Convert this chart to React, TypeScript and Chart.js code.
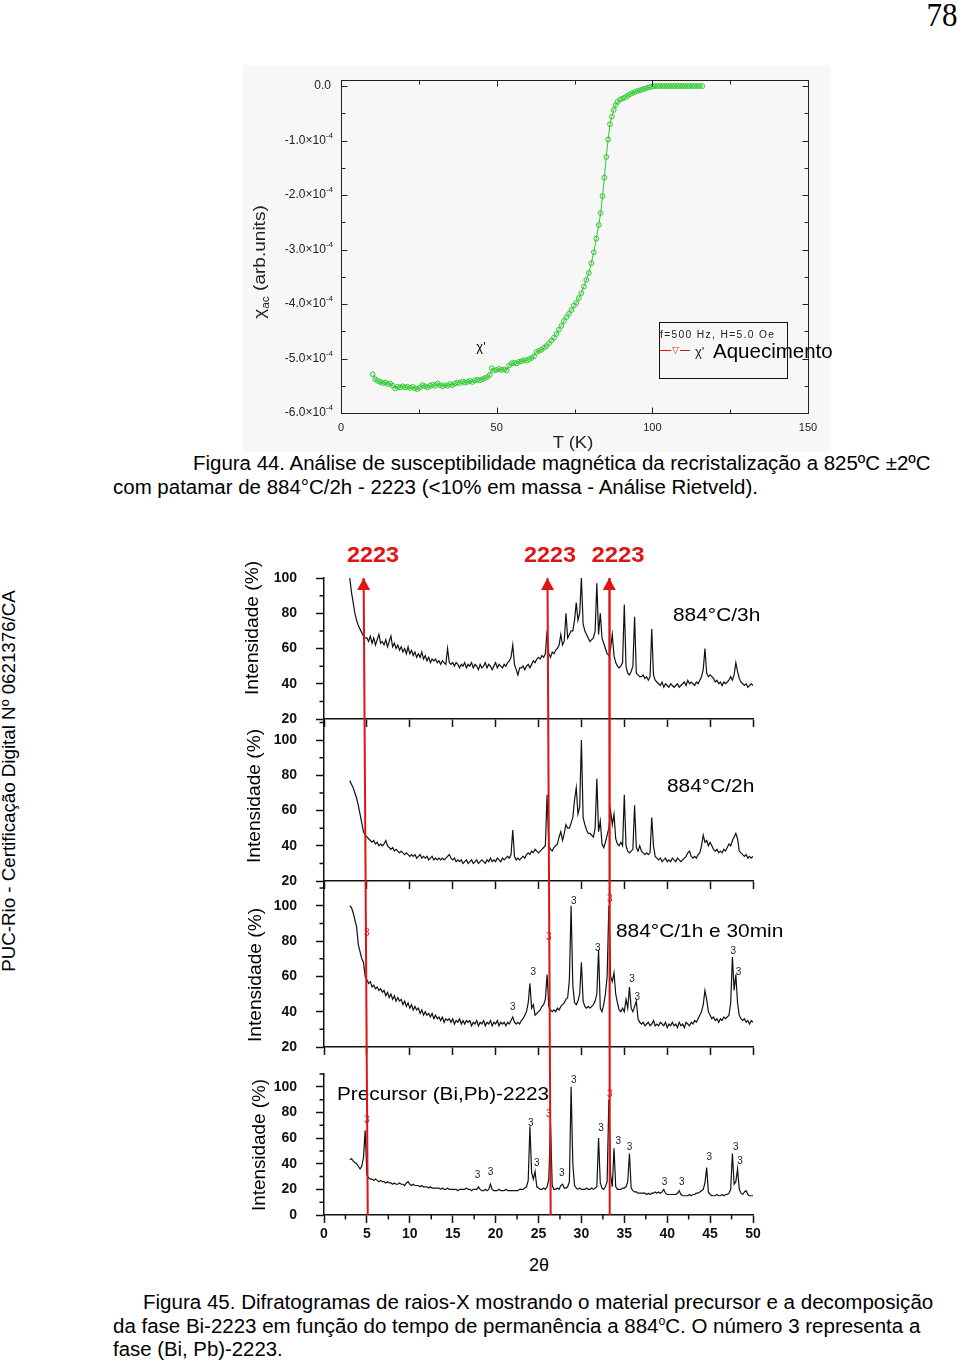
import React, { useEffect, useLayoutEffect, useRef } from "react";
import { Chart, registerables } from "chart.js";
Chart.register(...registerables);

const SANS = '"Liberation Sans", Arial, Helvetica, sans-serif';
const SERIF = '"Liberation Serif", "Times New Roman", serif';
const RED = "#e01414";
const GREEN = "#2fca2f";
const INK = "#111";

// ---------------- Figura 44 : susceptibilidade ----------------
const tempK = [
  10.2, 11.0, 11.8, 12.6, 13.4, 14.2, 15.0, 15.8, 16.6, 17.4,
  18.2, 19.0, 19.8, 20.6, 21.4, 22.2, 23.0, 23.8, 24.6, 25.4,
  26.2, 27.0, 27.8, 28.6, 29.4, 30.2, 31.0, 31.8, 32.6, 33.4,
  34.2, 35.0, 35.8, 36.6, 37.4, 38.2, 39.0, 39.8, 40.6, 41.4,
  42.2, 43.0, 43.8, 44.6, 45.4, 46.2, 47.0, 47.8, 48.4, 49.2,
  50.0, 50.8, 51.6, 52.4, 53.2, 54.0, 54.8, 55.6, 56.4, 57.2,
  58.0, 58.8, 59.6, 60.4, 61.2, 62.0, 62.8, 63.6, 64.4, 65.2,
  66.0, 66.8, 67.6, 68.4, 69.2, 70.0, 70.8, 71.6, 72.4, 73.2,
  74.0, 74.8, 75.6, 76.4, 77.2, 78.0, 78.8, 79.6, 80.4, 81.2,
  82.0, 82.8, 83.4, 84.0, 84.6, 85.2, 85.8, 86.4, 87.0, 87.6,
  88.2, 88.8, 89.6, 90.4, 91.2, 92.0, 92.8, 93.6, 94.4, 95.2,
  96.0, 96.8, 97.6, 98.4, 99.2, 100.0, 100.8, 101.6, 102.4, 103.2,
  104.0, 104.8, 105.6, 106.4, 107.2, 108.0, 108.8, 109.6, 110.4, 111.2,
  112.0, 112.8, 113.6, 114.4, 115.2, 116.0,
];
// chi_ac in units of 1e-4
const chiAc = [
  -5.29, -5.38, -5.41, -5.43, -5.45, -5.44, -5.47, -5.46, -5.5, -5.55,
  -5.52, -5.53, -5.51, -5.53, -5.52, -5.54, -5.52, -5.55, -5.56, -5.53,
  -5.49, -5.51, -5.53, -5.5, -5.48, -5.5, -5.46, -5.49, -5.51, -5.49,
  -5.5, -5.47, -5.49, -5.46, -5.44, -5.45, -5.42, -5.44, -5.43, -5.41,
  -5.43, -5.4, -5.39, -5.4, -5.38, -5.36, -5.34, -5.3, -5.18, -5.22,
  -5.21, -5.19, -5.21, -5.2, -5.22, -5.13, -5.09, -5.08, -5.09, -5.06,
  -5.05, -5.03, -5.04, -5.01, -4.99, -4.96, -4.88, -4.86, -4.84, -4.8,
  -4.77, -4.72, -4.67, -4.62, -4.55, -4.47, -4.4, -4.31, -4.24, -4.18,
  -4.11, -4.03, -3.98, -3.89, -3.8, -3.68, -3.56, -3.43, -3.25, -3.05,
  -2.8, -2.55, -2.33, -2.02, -1.68, -1.3, -0.98, -0.7, -0.56, -0.44,
  -0.35, -0.29, -0.25, -0.23, -0.21, -0.18, -0.15, -0.13, -0.11, -0.09,
  -0.08, -0.06, -0.05, -0.03, -0.02, -0.01, 0, 0, 0, 0,
  0, 0, 0, 0, 0, 0, 0, 0, 0, 0,
  0, 0, 0, 0, 0, 0,
];
const tempTicksMajor = [0, 50, 100, 150];
const tempTicksMinor = [25, 75, 125];
const chiTicksMajor = [0, -1, -2, -3, -4, -5, -6];
const chiTicksMinor = [-0.5, -1.5, -2.5, -3.5, -4.5, -5.5];

// ---------------- Figura 45 : difratogramas ----------------
const twoThetaStart = 3.0;
const twoThetaStep = 0.2;
const int3h = [
  100, 92, 86, 80, 76, 73, 71, 69, 67, 66,
  66, 64, 67, 63, 66, 62, 65, 68, 63, 64,
  62, 65, 61, 64, 67, 61, 63, 60, 62, 59,
  61, 58, 60, 57, 61, 57, 59, 56, 58, 55,
  57, 55, 58, 54, 56, 53, 55, 52, 54, 53,
  54, 52, 53, 51, 53, 52, 51, 60, 52, 51,
  52, 50, 52, 51, 49, 51, 50, 52, 49, 51,
  50, 52, 49, 51, 50, 48, 51, 49, 50, 52,
  49, 51, 50, 48, 50, 52, 49, 51, 50, 49,
  51, 50, 52, 53, 55, 62, 51, 48, 45, 49,
  49, 50, 48, 50, 51, 49, 51, 53, 52, 54,
  55, 54, 56, 55, 57, 70, 57, 55, 58, 57,
  59, 60, 62, 68, 62, 64, 80, 66, 68, 70,
  70, 76, 86, 76, 80, 100, 74, 70, 68, 66,
  64, 65, 66, 70, 97, 68, 80, 66, 63, 60,
  57, 56, 60, 68, 56, 52, 50, 49, 50, 52,
  85, 50, 46, 45, 47, 50, 78, 46, 45, 44,
  44, 45, 43, 44, 42, 44, 71, 45, 42, 41,
  40, 39, 41, 38, 40, 39, 38, 40, 39, 38,
  39, 40, 38, 39, 40, 41, 39, 42, 40, 41,
  40, 39, 41, 40, 42, 44, 48, 60, 46, 44,
  45, 44, 43, 41, 42, 40, 41, 39, 41, 40,
  41, 42, 44, 42, 45, 52, 47, 43, 41, 40,
  39, 40, 38, 39, 40, 39,
];
const int2h = [
  77, 75, 73, 70, 67, 63, 58, 53, 48, 46,
  45, 44, 43, 42, 43, 41, 42, 40, 41, 40,
  41, 43, 40, 39, 38, 39, 37, 38, 37, 36,
  37, 36, 35, 36, 35, 34, 35, 34, 35, 33,
  34, 35, 33, 34, 33, 34, 32, 33, 34, 32,
  33, 32, 33, 32, 33, 32, 33, 34, 35, 33,
  32, 33, 31, 32, 31, 32, 30, 31, 32, 30,
  31, 32, 30, 31, 32, 30, 31, 32, 31, 30,
  32, 31, 33, 31, 32, 31, 33, 32, 31, 33,
  32, 33, 34, 33, 35, 49, 34, 32, 33, 32,
  33, 34, 33, 35, 36, 35, 37, 36, 38, 37,
  36, 37, 38, 39, 40, 69, 40, 38, 37, 39,
  40, 41, 45, 48, 43, 47, 52, 50, 50, 53,
  56, 66, 73, 58, 62, 100, 56, 52, 49, 47,
  47, 46, 45, 50, 78, 48, 54, 41, 39, 42,
  46, 50, 60, 52, 58, 44, 41, 40, 42, 40,
  69, 40, 37, 36, 37, 38, 63, 39, 37, 40,
  37, 36, 35, 36, 35, 36, 56, 40, 34, 33,
  32, 33, 31, 32, 33, 31, 32, 31, 33, 32,
  31, 33, 32, 31, 32, 33, 34, 36, 37, 34,
  33, 34, 33, 35, 36, 40, 46, 42, 43, 40,
  42, 40, 38, 37, 38, 36, 37, 36, 38, 37,
  39, 41, 40, 43, 45, 47, 44, 37, 36, 35,
  34, 35, 33, 34, 33, 34,
];
const int1h30 = [
  100, 99, 96, 92, 88, 78, 74, 70, 68, 60,
  58, 56, 57, 54, 55, 53, 54, 52, 53, 51,
  52, 49, 51, 48, 50, 47, 49, 46, 48, 46,
  47, 44, 46, 43, 45, 42, 44, 41, 43, 41,
  42, 39, 41, 38, 40, 38, 39, 37, 39, 36,
  38, 36, 37, 35, 37, 34, 36, 35, 36, 34,
  36, 33, 35, 34, 36, 33, 35, 33, 35, 34,
  35, 32, 34, 33, 35, 32, 34, 33, 35, 32,
  34, 33, 35, 32, 34, 33, 35, 32, 34, 33,
  34, 32, 34, 33, 35, 37, 34, 33, 34, 33,
  35, 36, 38, 40, 45, 56, 42, 44, 38, 39,
  40, 41, 43, 44, 47, 61, 43, 41, 40, 41,
  40, 42, 41, 43, 44, 45, 47, 48, 58, 100,
  55, 45, 44, 46, 50, 68, 46, 43, 42, 43,
  42, 43, 44, 46, 50, 75, 42, 40, 44, 50,
  60, 100, 60, 57, 62, 50, 45, 41, 40, 42,
  40, 47, 42, 54, 42, 40, 43, 46, 36, 34,
  33, 34, 32, 33, 34, 32, 33, 35, 32, 33,
  32, 34, 33, 32, 34, 31, 33, 32, 34, 32,
  33, 31, 34, 32, 33, 31, 34, 33, 32, 34,
  33, 35, 34, 36, 38, 40, 44, 52, 47, 40,
  38, 36, 37, 35, 36, 34, 36, 35, 37, 36,
  37, 38, 45, 71, 52, 61, 45, 38, 36, 35,
  36, 34, 35, 33, 35, 34,
];
const intPrecursor = [
  43, 44, 42, 41, 40, 38, 36, 38, 45, 66,
  31, 29, 28, 28, 27, 28, 27, 26, 27, 26,
  26, 25, 26, 25, 25, 24, 25, 24, 24, 25,
  24, 24, 23, 25, 26, 24, 23, 24, 23, 23,
  23, 22, 23, 22, 22, 22, 21, 22, 21, 21,
  21, 21, 21, 20, 21, 20, 20, 21, 20, 20,
  20, 20, 20, 19, 20, 20, 20, 20, 21, 20,
  20, 19, 20, 20, 20, 22, 20, 19, 19, 20,
  19, 20, 24, 20, 19, 19, 19, 20, 19, 19,
  19, 20, 19, 19, 19, 19, 19, 19, 19, 20,
  20, 20, 21, 22, 27, 69, 33, 28, 34, 22,
  21, 20, 20, 21, 20, 22, 28, 71, 23, 20,
  20, 21, 20, 23, 24, 21, 21, 22, 26, 100,
  40, 23, 21, 20, 21, 20, 20, 20, 21, 20,
  20, 21, 20, 21, 22, 60, 25, 21, 20, 22,
  26, 90, 32, 22, 52, 22, 20, 20, 20, 21,
  21, 22, 26, 48, 21, 19, 18, 18, 17, 17,
  17, 17, 17, 16, 17, 16, 17, 17, 18, 17,
  18, 17, 18, 20, 17, 16, 16, 16, 16, 16,
  16, 17, 19, 16, 15, 15, 15, 15, 16, 15,
  16, 16, 17, 17, 18, 19, 20, 25, 37, 18,
  16, 15, 15, 15, 16, 15, 15, 16, 15, 16,
  16, 17, 20, 48, 24, 26, 36, 20, 17, 16,
  18, 19, 16, 15, 15, 15,
];
const twoTheta = int3h.map((_, i) => +(twoThetaStart + i * twoThetaStep).toFixed(1));

// 2223 reference lines (2theta at top of figure / at bottom of figure)
const arrowTop2Theta = [4.62, 26.05, 33.25];
const arrowBottom2Theta = [5.1, 26.42, 33.3];

// "3" peak markers [2theta, intensity]
const peakLabels1h30 = [
  [4.98, 84.4], [22.0, 42.4], [24.4, 62.3], [26.2, 82.1], [29.1, 102.6], [31.9, 75.9],
  [33.3, 103.7], [35.9, 58.3], [36.5, 48.1], [47.7, 74.2], [48.3, 62.3],
];
const peakLabelsPrecursor = [
  [5.0, 74], [17.9, 31.3], [19.4, 33.7], [24.1, 71.6], [24.8, 40.7], [26.2, 78.7],
  [27.7, 32.9], [29.1, 105], [32.3, 67.8], [33.3, 94.2], [34.3, 57.8], [35.6, 53.1],
  [39.7, 25.2], [41.7, 25.2], [44.9, 45.3], [48.0, 53.1], [48.5, 42.2],
];
const twoThetaTicks = [0, 5, 10, 15, 20, 25, 30, 35, 40, 45, 50];
const twoThetaMinor = [2.5, 7.5, 12.5, 17.5, 22.5, 27.5, 32.5, 37.5, 42.5, 47.5];

// ---------------- helpers ----------------
function Txt({ x, y, size, w, anchor = "left", rotate = false, weight = "normal", color = "#000", family = SANS, ls = 0, z = 2, children }: any) {
  const ref = useRef<HTMLDivElement>(null);
  useLayoutEffect(() => {
    const el = ref.current;
    if (!el) return;
    const apply = () => {
      let s = 1;
      if (w) {
        const nat = el.offsetWidth;
        if (nat > 0) s = w / nat;
      }
      const sc = `scaleX(${s})`;
      el.style.transform = rotate
        ? `translate(-50%,-50%) rotate(-90deg) ${sc}`
        : anchor === "center"
        ? `translate(-50%,-50%) ${sc}`
        : `translateY(-50%) ${sc}`;
    };
    apply();
    const f: any = (document as any).fonts;
    if (f && f.ready) f.ready.then(apply);
  });
  return (
    <div
      ref={ref}
      style={{
        position: "absolute",
        left: x,
        top: y,
        fontSize: size,
        fontFamily: family,
        fontWeight: weight,
        color,
        letterSpacing: ls,
        whiteSpace: "nowrap",
        lineHeight: 1,
        transformOrigin: rotate || anchor === "center" ? "50% 50%" : "0 50%",
        zIndex: z,
      }}
    >
      {children}
    </div>
  );
}

// ---------------- Figura 44 chart ----------------
function SusceptibilityChart() {
  const ref = useRef<HTMLCanvasElement>(null);
  const W = 587, H = 387;
  useEffect(() => {
    const framePlugin = {
      id: "suscFrame",
      beforeDraw(chart: any) {
        const { ctx, width, height } = chart;
        ctx.save();
        ctx.fillStyle = "#f7f7f7";
        ctx.fillRect(0, 0, width, height);
        ctx.restore();
      },
      afterDraw(chart: any) {
        const { ctx, chartArea: a, scales } = chart;
        const x = scales.x, y = scales.y;
        ctx.save();
        ctx.strokeStyle = "#222";
        ctx.lineWidth = 1;
        const L = Math.round(a.left) + 0.5, T = Math.round(a.top) + 0.5;
        const R = Math.round(a.right) + 0.5, B = Math.round(a.bottom) + 0.5;
        ctx.strokeRect(L, T, R - L, B - T);
        ctx.beginPath();
        const xt = (vals: number[], len: number) => {
          for (const v of vals) {
            const p = Math.round(x.getPixelForValue(v)) + 0.5;
            ctx.moveTo(p, B); ctx.lineTo(p, B - len);
            ctx.moveTo(p, T); ctx.lineTo(p, T + len);
          }
        };
        const yt = (vals: number[], len: number) => {
          for (const v of vals) {
            const p = Math.round(y.getPixelForValue(v)) + 0.5;
            ctx.moveTo(L, p); ctx.lineTo(L + len, p);
            ctx.moveTo(R, p); ctx.lineTo(R - len, p);
          }
        };
        xt(tempTicksMajor, 6); xt(tempTicksMinor, 4);
        yt(chiTicksMajor, 6); yt(chiTicksMinor, 4);
        ctx.stroke();
        ctx.fillStyle = "#222";
        ctx.textBaseline = "middle";
        ctx.textAlign = "center";
        ctx.font = `11px ${SANS}`;
        for (const v of tempTicksMajor) ctx.fillText(String(v), x.getPixelForValue(v), a.bottom + 15);
        const right = a.left - 8;
        for (const v of chiTicksMajor) {
          const py = y.getPixelForValue(v);
          if (v === 0) {
            ctx.font = `12px ${SANS}`;
            ctx.textAlign = "right";
            ctx.fillText("0.0", right - 2, py);
            continue;
          }
          ctx.font = `8px ${SANS}`;
          const supW = ctx.measureText("-4").width;
          ctx.textAlign = "left";
          ctx.fillText("-4", right - supW, py - 5);
          ctx.font = `12px ${SANS}`;
          ctx.textAlign = "right";
          ctx.fillText(`${v.toFixed(1)}\u00d710`, right - supW, py);
        }
        ctx.restore();
      },
    };
    const chart = new Chart(ref.current!, {
      type: "line",
      data: {
        datasets: [
          {
            data: tempK.map((t, i) => ({ x: t, y: chiAc[i] })),
            borderColor: GREEN,
            borderWidth: 1,
            pointRadius: 2.4,
            pointBorderWidth: 1,
            pointBorderColor: GREEN,
            pointBackgroundColor: "rgba(0,0,0,0)",
            tension: 0,
          },
        ],
      },
      options: {
        responsive: false,
        animation: false,
        events: [],
        layout: { padding: { left: 98, top: 14.5, right: 22, bottom: 39 } },
        plugins: { legend: { display: false }, tooltip: { enabled: false } },
        scales: {
          x: { type: "linear", min: 0, max: 150, display: false },
          y: { type: "linear", min: -6, max: 0.12, display: false },
        },
      } as any,
      plugins: [framePlugin],
    });
    return () => chart.destroy();
  }, []);
  return <canvas ref={ref} width={W} height={H} style={{ position: "absolute", left: 243, top: 65, width: W, height: H, zIndex: 1 }} />;
}

// ---------------- Figura 45 panels ----------------
const panelLayout = [
  { values: int3h, chartTop: 578, chartBottom: 719, yMin: 20, yMax: 100, yMajor: [20, 40, 60, 80, 100], yMinor: [30, 50, 70, 90], labels: [] as number[][], xLabels: false },
  { values: int2h, chartTop: 719, chartBottom: 881, yMin: 20, yMax: 112, yMajor: [20, 40, 60, 80, 100], yMinor: [30, 50, 70, 90, 110], labels: [] as number[][], xLabels: false },
  { values: int1h30, chartTop: 881, chartBottom: 1047, yMin: 20, yMax: 114, yMajor: [20, 40, 60, 80, 100], yMinor: [30, 50, 70, 90, 110], labels: peakLabels1h30, xLabels: false },
  { values: intPrecursor, chartTop: 1074, chartBottom: 1215, yMin: 0, yMax: 110, yMajor: [0, 20, 40, 60, 80, 100], yMinor: [10, 30, 50, 70, 90, 110], labels: peakLabelsPrecursor, xLabels: true },
];

const CANVAS_LEFT = 230;
const CANVAS_W = 560;
const Y_AXIS_W = 94;
const PAD_RIGHT = 37;

function XrdPanel({ cfg }: any) {
  const ref = useRef<HTMLCanvasElement>(null);
  const padTop = 10;
  const xAxisH = cfg.xLabels ? 40 : 9;
  const height = cfg.chartBottom - cfg.chartTop + padTop + xAxisH;
  useEffect(() => {
    const extras = {
      id: "xrdExtras",
      afterDatasetsDraw(chart: any) {
        const { ctx, scales } = chart;
        const x = scales.x, y = scales.y;
        ctx.save();
        ctx.font = `10px ${SANS}`;
        ctx.textAlign = "center";
        ctx.textBaseline = "middle";
        for (const [t, v] of cfg.labels) {
          const nearArrow = arrowBottom2Theta.some((b: number, k: number) => Math.abs((b + arrowTop2Theta[k]) / 2 - t) < 0.4);
          ctx.fillStyle = nearArrow ? RED : "#222";
          ctx.fillText("3", x.getPixelForValue(t), y.getPixelForValue(v));
        }
        ctx.restore();
      },
      afterDraw(chart: any) {
        const { ctx, chartArea: a, scales } = chart;
        const x = scales.x, y = scales.y;
        ctx.save();
        ctx.strokeStyle = INK;
        ctx.lineWidth = 1.5;
        ctx.beginPath();
        for (const v of cfg.yMinor) {
          const p = y.getPixelForValue(v);
          ctx.moveTo(a.left - 4.5, p); ctx.lineTo(a.left, p);
        }
        if (cfg.xLabels) {
          for (const v of twoThetaMinor) {
            const p = x.getPixelForValue(v);
            ctx.moveTo(p, a.bottom); ctx.lineTo(p, a.bottom + 4.5);
          }
        }
        ctx.stroke();
        ctx.restore();
      },
    };
    const chart = new Chart(ref.current!, {
      type: "line",
      data: {
        datasets: [
          {
            data: cfg.values.map((v: number, i: number) => ({ x: twoTheta[i], y: v })),
            borderColor: INK,
            borderWidth: 1.2,
            pointRadius: 0,
            tension: 0,
          },
        ],
      },
      options: {
        responsive: false,
        animation: false,
        events: [],
        layout: { padding: { left: 0, top: padTop, right: PAD_RIGHT, bottom: 0 } },
        plugins: { legend: { display: false }, tooltip: { enabled: false } },
        scales: {
          x: {
            type: "linear",
            min: 0,
            max: 50,
            afterBuildTicks: (s: any) => { s.ticks = twoThetaTicks.map((v) => ({ value: v })); },
            afterFit: (s: any) => { s.height = xAxisH; s.paddingLeft = 0; s.paddingRight = 0; },
            grid: { drawOnChartArea: false, tickLength: 8, tickColor: INK, tickWidth: 1.5 },
            border: { display: true, color: INK, width: 1.5 },
            ticks: { display: cfg.xLabels, color: INK, padding: 3, maxRotation: 0, font: { family: SANS, size: 14, weight: "bold" } },
          },
          y: {
            type: "linear",
            min: cfg.yMin,
            max: cfg.yMax,
            afterBuildTicks: (s: any) => { s.ticks = cfg.yMajor.map((v: number) => ({ value: v })); },
            afterFit: (s: any) => { s.width = Y_AXIS_W; s.paddingTop = 0; s.paddingBottom = 0; },
            grid: { drawOnChartArea: false, tickLength: 8, tickColor: INK, tickWidth: 1.5 },
            border: { display: true, color: INK, width: 1.5 },
            ticks: { color: INK, padding: 19, font: { family: SANS, size: 14, weight: "bold" } },
          },
        },
      } as any,
      plugins: [extras],
    });
    return () => chart.destroy();
  }, []);
  return (
    <canvas
      ref={ref}
      width={CANVAS_W}
      height={height}
      style={{ position: "absolute", left: CANVAS_LEFT, top: cfg.chartTop - padTop, width: CANVAS_W, height, zIndex: 1 }}
    />
  );
}

function ArrowOverlay() {
  const ref = useRef<HTMLCanvasElement>(null);
  const top = 540, H = 690, chartTop = 578, chartBottom = 1215;
  useEffect(() => {
    const heads = {
      id: "arrowHeads",
      afterDatasetsDraw(chart: any) {
        const { ctx, scales } = chart;
        ctx.save();
        ctx.fillStyle = RED;
        for (const t of arrowTop2Theta) {
          const px = scales.x.getPixelForValue(t);
          const py = scales.y.getPixelForValue(1);
          ctx.beginPath();
          ctx.moveTo(px, py);
          ctx.lineTo(px - 6.5, py + 12);
          ctx.lineTo(px + 6.5, py + 12);
          ctx.closePath();
          ctx.fill();
        }
        ctx.restore();
      },
    };
    const chart = new Chart(ref.current!, {
      type: "line",
      data: {
        datasets: arrowTop2Theta.map((t, k) => ({
          data: [{ x: t, y: 1 }, { x: arrowBottom2Theta[k], y: 0 }],
          borderColor: RED,
          borderWidth: 2,
          pointRadius: 0,
          clip: 10,
        })),
      },
      options: {
        responsive: false,
        animation: false,
        events: [],
        layout: { padding: { left: Y_AXIS_W, right: PAD_RIGHT, top: chartTop - top, bottom: top + H - chartBottom } },
        plugins: { legend: { display: false }, tooltip: { enabled: false } },
        scales: {
          x: { type: "linear", min: 0, max: 50, display: false },
          y: { type: "linear", min: 0, max: 1, display: false },
        },
      } as any,
      plugins: [heads],
    });
    return () => chart.destroy();
  }, []);
  return <canvas ref={ref} width={CANVAS_W} height={H} style={{ position: "absolute", left: CANVAS_LEFT, top, width: CANVAS_W, height: H, zIndex: 5, pointerEvents: "none" }} />;
}

export default function App() {
  useEffect(() => {
    document.body.style.margin = "0";
  }, []);
  return (
    <div style={{ position: "absolute", left: 0, top: 0, width: 960, height: 1363, background: "#fff", overflow: "hidden", fontFamily: SANS }}>
      <Txt x={942} y={15} size={34} anchor="center" family={SERIF} w={31}>78</Txt>

      {/* Figura 44 */}
      <SusceptibilityChart />
      <Txt x={481} y={346} size={13} anchor="center">χ'</Txt>
      <div style={{ position: "absolute", left: 659, top: 322, width: 129, height: 57, border: "1px solid #111", boxSizing: "border-box", zIndex: 2 }} />
      <Txt x={660} y={335} size={10} ls={1.3} w={115} color="#222">f=500 Hz, H=5.0 Oe</Txt>
      <div style={{ position: "absolute", left: 660, top: 350, width: 11, height: 1, background: RED, zIndex: 2 }} />
      <Txt x={675} y={350} size={9} anchor="center" color={RED}>▽</Txt>
      <div style={{ position: "absolute", left: 680, top: 350, width: 10, height: 1, background: RED, zIndex: 2 }} />
      <Txt x={695} y={351} size={13} color="#222">χ'</Txt>
      <Txt x={713} y={351} size={20.5} w={120}>Aquecimento</Txt>
      <Txt x={260} y={262} size={16} rotate w={113} color="#222">
        χ<sub style={{ fontSize: 10, verticalAlign: "sub", lineHeight: 0 }}>ac</sub> (arb.units)
      </Txt>
      <Txt x={573} y={442} size={17} anchor="center" w={40} color="#222">T (K)</Txt>
      <Txt x={193} y={463} size={20} w={738}>Figura 44. Análise de susceptibilidade magnética da recristalização a 825ºC ±2ºC</Txt>
      <Txt x={113} y={487} size={20} w={645}>com patamar de 884°C/2h - 2223 (&lt;10% em massa - Análise Rietveld).</Txt>

      {/* watermark */}
      <Txt x={9} y={781} size={18} rotate w={382}>PUC-Rio - Certificação Digital Nº 0621376/CA</Txt>

      {/* Figura 45 */}
      {panelLayout.map((cfg, i) => (
        <XrdPanel key={i} cfg={cfg} />
      ))}
      <Txt x={252} y={628} size={18} rotate w={134}>Intensidade (%)</Txt>
      <Txt x={254} y={796} size={18} rotate w={134}>Intensidade (%)</Txt>
      <Txt x={255} y={975} size={18} rotate w={134}>Intensidade (%)</Txt>
      <Txt x={259} y={1145} size={18} rotate w={132}>Intensidade (%)</Txt>
      <Txt x={673} y={615} size={18} w={87}>884°C/3h</Txt>
      <Txt x={667} y={786} size={18} w={87}>884°C/2h</Txt>
      <Txt x={616} y={931} size={18} w={167}>884°C/1h e 30min</Txt>
      <Txt x={337} y={1094} size={18} w={212}>Precursor (Bi,Pb)-2223</Txt>
      <Txt x={539} y={1265} size={18} anchor="center">2θ</Txt>
      <Txt x={373} y={555} size={22} anchor="center" weight="bold" color={RED} w={52}>2223</Txt>
      <Txt x={549.5} y={555} size={22} anchor="center" weight="bold" color={RED} w={52}>2223</Txt>
      <Txt x={618} y={555} size={22} anchor="center" weight="bold" color={RED} w={53}>2223</Txt>
      <ArrowOverlay />

      <Txt x={143} y={1302} size={20} w={790}>Figura 45. Difratogramas de raios-X  mostrando o material precursor e a decomposição</Txt>
      <Txt x={113} y={1326} size={20} w={807}>
        da fase Bi-2223 em função do tempo de permanência a 884<sup style={{ fontSize: 12, verticalAlign: "super", lineHeight: 0 }}>o</sup>C. O número 3 representa a
      </Txt>
      <Txt x={113} y={1349} size={20} w={170}>fase (Bi, Pb)-2223.</Txt>
    </div>
  );
}
